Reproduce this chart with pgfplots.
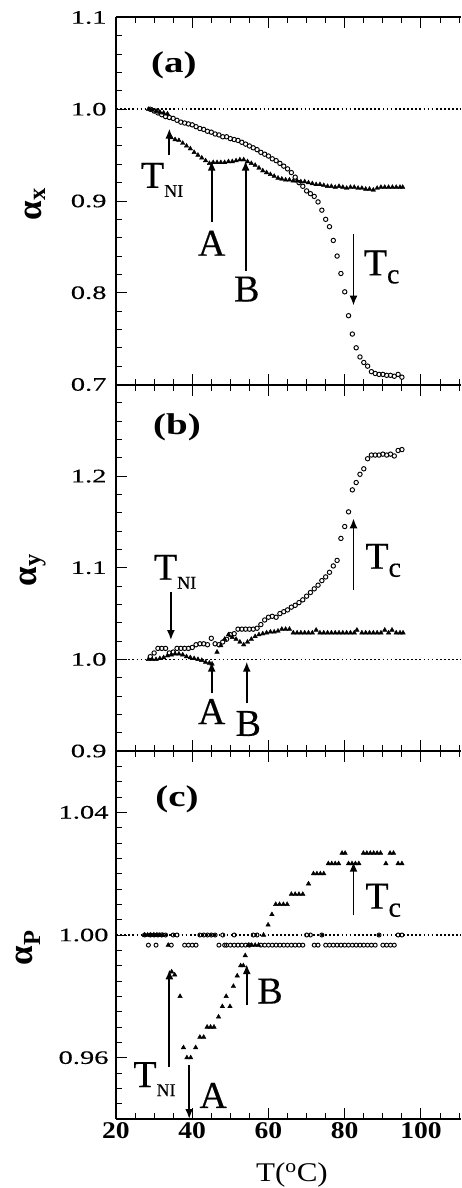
\documentclass[border=0pt]{standalone}
\usepackage{fontspec}
\setmainfont{Liberation Serif}
\newfontfamily\wideA[FakeStretch=1.5, FakeBold=0.3]{Liberation Serif}
\newfontfamily\wideP[FakeStretch=1.3]{Liberation Serif}
\newfontfamily\wideB[FakeStretch=1.15]{Liberation Serif}
\newfontfamily\annfont[FakeBold=0.4]{Liberation Serif}
\usepackage{pgfplots}
\pgfplotsset{compat=1.18}
\usetikzlibrary{arrows.meta}

\newcommand{\TNI}{T\raisebox{-9pt}{\fontsize{18}{18}\selectfont NI}}
\newcommand{\Tc}{T\raisebox{-8pt}{\fontsize{28}{28}\selectfont c}}

\tikzset{
  refline/.style={black, line width=1.7pt, dash pattern=on 1.7pt off 2.4pt},
  ann/.style={black, line width=1.8pt, -{Latex[length=10pt,width=8pt]}},
  lbl/.style={font=\annfont\fontsize{38}{38}\selectfont, inner sep=0pt},
  plbl/.style={font=\wideP\bfseries\fontsize{30}{30}\selectfont, inner sep=0pt},
}
\pgfplotsset{
  panel/.style={
    scale only axis, width=345pt,
    xmin=20, xmax=110.5,
    axis x line*=box, axis y line*=left,
    tick align=inside,
    xtick={20,40,60,80,100},
    minor xtick={25,30,35,45,50,55,65,70,75,85,90,95,105,110},
    xtick pos=both, ytick pos=left,
    major tick length=11pt, minor tick length=6pt,
    tick style={black, line width=1pt},
    minor tick style={black, line width=1pt},
    axis line style={black, line width=2pt},
    clip=false,
    yticklabel style={font=\wideA\fontsize{19}{19}\selectfont, xshift=-6pt},
    xticklabel style={font=\wideB\bfseries\fontsize{24}{24}\selectfont},
    ylabel style={font=\bfseries\fontsize{35}{35}\selectfont, anchor=center},
  },
  circ/.style={only marks, mark=o, mark size=2.2pt, mark options={line width=0.95pt, black}},
  tri/.style={only marks, mark=triangle*, mark size=2.6pt, mark options={black, fill=black, line width=0.4pt}},
}

\begin{document}
\begin{tikzpicture}
\useasboundingbox (0,0) rectangle (461pt,-1188pt);

% ---------------- panel (a)
\begin{axis}[panel, at={(116pt,-17.5pt)}, anchor=north west, height=367pt,
  ymin=0.7, ymax=1.1, ytick={0.7,0.8,0.9,1.0,1.1}, yticklabels={0.7,0.8,0.9,1.0,1.1},
  minor y tick num=4, xticklabels={},
  ylabel={α\textsubscript{x}}, ylabel style={at={(axis description cs:-0.235,0.492)}}]
\addplot[refline] coordinates {(20,1) (110.5,1)};
\addplot[circ] coordinates {
(29,1.000)(30,0.998)(31,0.996)(32,0.994)(33,0.992)(34,0.991)(35,0.990)(36,0.988)(37,0.986)(38,0.985)
(39,0.984)(40,0.983)(41,0.981)(42,0.979)(43,0.978)(44,0.976)(45,0.975)(46,0.973)(47,0.972)(48,0.970)
(49,0.970)(50,0.968)(51,0.967)(52,0.966)(53,0.964)(54,0.962)(55,0.960)(56,0.958)(57,0.956)(58,0.953)
(59,0.951)(60,0.949)(61,0.946)(62,0.944)(63,0.941)(64,0.938)(65,0.935)(66,0.931)(67,0.926)(68,0.920)
(69,0.916)(70,0.911)(71,0.908)(72,0.905)(73,0.899)(74,0.890)(75,0.880)(76,0.872)(77,0.857)(78,0.840)
(79,0.821)(80,0.801)(81,0.775)(82,0.755)(83,0.740)(84,0.730)(85,0.724)(86,0.720)(87,0.714)(88,0.712)
(89,0.711)(90,0.711)(91,0.710)(92,0.710)(93,0.709)(94,0.711)(95,0.708)};
\addplot[tri] coordinates {
(28.5,1.000)(29.5,0.999)(30.5,0.998)(31.5,0.997)(32.5,0.996)(33.5,0.995)(34.5,0.969)(35.5,0.967)
(36.5,0.966)(37.5,0.963)(38.5,0.960)(39.5,0.957)(40.5,0.953)(41.5,0.950)(42.5,0.947)(43.5,0.944)
(44.5,0.941)(45.5,0.942)(46.5,0.942)(47.5,0.942)(48.5,0.942)(49.5,0.943)(50.5,0.943)(51.5,0.944)
(52.5,0.945)(53.5,0.945)(54.5,0.943)(55.5,0.941)(56.5,0.939)(57.5,0.936)(58.5,0.933)(59.5,0.931)
(60.5,0.929)(61.5,0.927)(62.5,0.925)(63.5,0.924)(64.5,0.923)(65.5,0.923)(66.5,0.922)(67.5,0.922)
(68.5,0.921)(69.5,0.921)(70.5,0.920)(71.5,0.919)(72.5,0.918)(73.5,0.918)(74.5,0.917)(75.5,0.916)
(76.5,0.916)(77.5,0.915)(78.5,0.916)(79.5,0.915)(80.5,0.914)(81.5,0.915)(82.5,0.915)(83.5,0.914)
(84.5,0.914)(85.5,0.913)(86.5,0.913)(87.5,0.912)(88.5,0.914)(89.5,0.915)(90.5,0.915)(91.5,0.915)
(92.5,0.915)(93.5,0.915)(94.5,0.915)(95.2,0.915)};
\node[plbl] at (axis cs:35.2,1.048) {(a)};
\draw[ann] (axis cs:34.0,0.950) -- (axis cs:34.0,0.979);
\node[lbl] at (axis cs:32.1,0.923) {\TNI};
\draw[ann] (axis cs:45.1,0.877) -- (axis cs:45.1,0.944);
\node[lbl] at (axis cs:45.1,0.854) {A};
\draw[ann] (axis cs:54.0,0.824) -- (axis cs:54.0,0.944);
\node[lbl] at (axis cs:54.3,0.804) {B};
\draw[ann] (axis cs:82.3,0.864) -- (axis cs:82.3,0.786);
\node[lbl] at (axis cs:89.7,0.828) {\Tc};
\end{axis}

% ---------------- panel (b)
\begin{axis}[panel, at={(116pt,-384.5pt)}, anchor=north west, height=366.5pt,
  ymin=0.9, ymax=1.3, ytick={0.9,1.0,1.1,1.2,1.3}, yticklabels={0.9,1.0,1.1,1.2,{}},
  minor y tick num=4, xticklabels={},
  ylabel={α\textsubscript{y}}, ylabel style={at={(axis description cs:-0.241,0.494)}}]
\addplot[refline] coordinates {(20,1) (110.5,1)};
\addplot[circ] coordinates {
(29,1.003)(30,1.007)(31,1.012)(32,1.012)(33,1.012)(34,1.007)(35,1.008)(36,1.012)(37,1.012)(38,1.012)
(39,1.012)(40,1.013)(41,1.016)(42,1.017)(43,1.017)(44,1.016)(45,1.023)(46,1.017)(47,1.016)(48,1.019)
(49,1.022)(50,1.027)(51,1.028)(52,1.033)(53,1.033)(54,1.033)(55,1.033)(56,1.033)(57,1.034)(58,1.038)
(59,1.043)(60,1.046)(61,1.047)(62,1.046)(63,1.050)(64,1.052)(65,1.054)(66,1.057)(67,1.059)(68,1.062)
(69,1.065)(70,1.069)(71,1.073)(72,1.077)(73,1.081)(74,1.086)(75,1.090)(76,1.095)(77,1.102)(78,1.108)
(79,1.132)(80,1.145)(81,1.161)(82,1.185)(83,1.193)(84,1.202)(85,1.208)(86,1.219)(87,1.223)(88,1.223)
(89,1.223)(90,1.224)(91,1.223)(92,1.224)(93,1.222)(94,1.228)(95,1.229)};
\addplot[tri] coordinates {
(28.5,1.000)(29.5,1.000)(30.5,1.000)(31.5,1.001)(32.5,1.002)(33.5,1.004)(34.5,1.005)(35.5,1.006)
(36.5,1.006)(37.5,1.005)(38.5,1.003)(39.5,1.002)(40.5,1.001)(41.5,1.000)(42.5,0.999)(43.5,0.997)
(44.5,0.996)(45.2,0.995)(46.5,1.008)(47.5,1.015)(48.5,1.022)(49.5,1.027)(50.5,1.024)(51.5,1.022)
(52.5,1.019)(53.5,1.016)(54.5,1.019)(55.5,1.022)(56.5,1.025)(57.5,1.027)(58.5,1.028)(59.5,1.029)
(60.5,1.030)(61.5,1.030)(62.5,1.031)(63.5,1.033)(64.5,1.033)(65.5,1.033)(66.5,1.029)(67.5,1.029)
(68.5,1.029)(69.5,1.029)(70.5,1.029)(71.5,1.029)(72.5,1.032)(73.5,1.029)(74.5,1.029)(75.5,1.029)
(76.5,1.029)(77.5,1.029)(78.5,1.029)(79.5,1.029)(80.5,1.029)(81.5,1.029)(82.5,1.029)(83.2,1.032)
(84.5,1.029)(85.5,1.029)(86.5,1.029)(87.5,1.029)(88.5,1.029)(89.5,1.029)(90.5,1.032)(91.5,1.029)
(92.4,1.032)(93.5,1.029)(94.5,1.029)(95.3,1.029)};
\node[plbl] at (axis cs:36.0,1.253) {(b)};
\draw[ann] (axis cs:34.4,1.074) -- (axis cs:34.4,1.021);
\node[lbl] at (axis cs:35.5,1.0956) {\TNI};
\draw[ann] (axis cs:45.1,0.963) -- (axis cs:45.1,0.9975);
\node[lbl] at (axis cs:45.1,0.943) {A};
\draw[ann] (axis cs:54.3,0.952) -- (axis cs:54.3,0.9975);
\node[lbl] at (axis cs:54.7,0.930) {B};
\draw[ann] (axis cs:82.3,1.0756) -- (axis cs:82.3,1.154);
\node[lbl] at (axis cs:90.1,1.108) {\Tc};
\end{axis}

% ---------------- panel (c)
\begin{axis}[panel, at={(116pt,-751pt)}, anchor=north west, height=368pt,
  ymin=0.94, ymax=1.06, ytick={0.96,1.00,1.04}, yticklabels={0.96,1.00,1.04},
  yticklabel style={xshift=2pt},
  minor ytick={0.945,0.95,0.955,0.965,0.97,0.975,0.98,0.985,0.99,0.995,1.005,1.01,1.015,1.02,1.025,1.03,1.035,1.045,1.05,1.055},
  xticklabels={20,40,60,80,100},
  xlabel={T(\textsuperscript{o}C)},
  xlabel style={font=\wideB\fontsize{27}{27}\selectfont, at={(axis description cs:0.51,0)}, anchor=center, yshift=-56pt},
  ylabel={α\textsubscript{P}}, ylabel style={at={(axis description cs:-0.255,0.465)}}]
\addplot[refline] coordinates {(20,1) (110.5,1)};
\addplot[circ, mark size=2pt] coordinates {
(27.5,1.000)(28.5,0.9967)(29,1.000)(30,1.000)(30.5,0.9967)(31,1.000)(32,1.000)(33,1.000)(34.5,0.9967)
(35,1.000)(36,1.000)(38,0.9967)(39,0.9967)(40,0.9967)(41,0.9967)(42,1.000)(43,1.000)(44,1.000)(45,1.000)
(46,1.000)(47,0.9967)(48,1.000)(48.5,0.9967)(49,0.9967)(50,0.9967)(51,1.000)(51,0.9967)(52,0.9967)
(53,0.9967)(54,0.9967)(55,0.9967)(56,1.000)(57,1.000)(58,0.9967)(59,0.9967)(60,0.9967)(61,0.9967)
(62,0.9967)(63,0.9967)(64,0.9967)(65,0.9967)(66,0.9967)(67,0.9967)(68,0.9967)(69,0.9967)(70,1.000)
(71,1.000)(72,0.9967)(73,0.9967)(74,1.000)(75,0.9967)(76,0.9967)(77,0.9967)(78,0.9967)(79,0.9967)
(80,0.9967)(81,0.9967)(82,0.9967)(83,0.9967)(84,0.9967)(85,0.9967)(86,0.9967)(87,0.9967)(88,0.9967)
(89,1.000)(90,0.9967)(91,0.9967)(92,0.9967)(93,0.9967)(94,1.000)(95,1.000)};
\addplot[tri] coordinates {
(27.5,1.000)(28.3,1.000)(29.1,1.000)(29.9,1.000)(30.7,1.000)(31.5,1.000)(32.3,1.000)(33.7,0.9967)
(34.6,0.9880)(35.4,0.9870)(36.8,0.9800)(37.7,0.9633)(38.6,0.9600)(39.6,0.9600)(40.9,0.9633)(42.0,0.9667)
(43.0,0.9667)(43.9,0.9700)(44.8,0.9700)(45.7,0.9700)(46.9,0.9733)(47.9,0.9767)(48.9,0.9800)(49.9,0.9767)
(50.8,0.9833)(51.8,0.9867)(52.7,0.9900)(53.4,0.9900)(53.9,0.9933)(54.7,0.9967)(55.6,0.9967)(56.5,0.9967)
(57.4,0.9967)(58.7,1.0000)(59.9,1.0033)(60.9,1.0067)(61.9,1.0100)(62.9,1.0100)(63.9,1.0100)(64.9,1.0100)
(66.0,1.0133)(67.0,1.0133)(68.0,1.0133)(69.0,1.0133)(70.5,1.0167)(71.8,1.0200)(72.7,1.0200)(73.6,1.0200)
(74.5,1.0200)(75.7,1.0233)(76.6,1.0233)(77.5,1.0233)(78.4,1.0233)(79.3,1.0267)(80.1,1.0267)(81.0,1.0233)
(81.9,1.0233)(82.8,1.0233)(83.7,1.0233)(84.9,1.0267)(85.8,1.0267)(86.7,1.0267)(87.6,1.0267)(88.5,1.0267)
(89.4,1.0267)(90.8,1.0233)(91.9,1.0267)(92.8,1.0267)(94.0,1.0233)(95.0,1.0233)};
\node[plbl] at (axis cs:36.0,1.0441) {(c)};
\draw[ann] (axis cs:34.0,0.957) -- (axis cs:34.0,0.9888);
\node[lbl] at (axis cs:30.1,0.953) {\TNI};
\draw[ann] (axis cs:39.2,0.9576) -- (axis cs:39.2,0.940);
\node[lbl] at (axis cs:45.5,0.9477) {A};
\draw[ann] (axis cs:54.3,0.9773) -- (axis cs:54.3,0.9905);
\node[lbl] at (axis cs:60.4,0.9817) {B};
\draw[ann] (axis cs:82.3,1.0064) -- (axis cs:82.3,1.0239);
\node[lbl] at (axis cs:90.1,1.0113) {\Tc};
\end{axis}
\end{tikzpicture}
\end{document}
